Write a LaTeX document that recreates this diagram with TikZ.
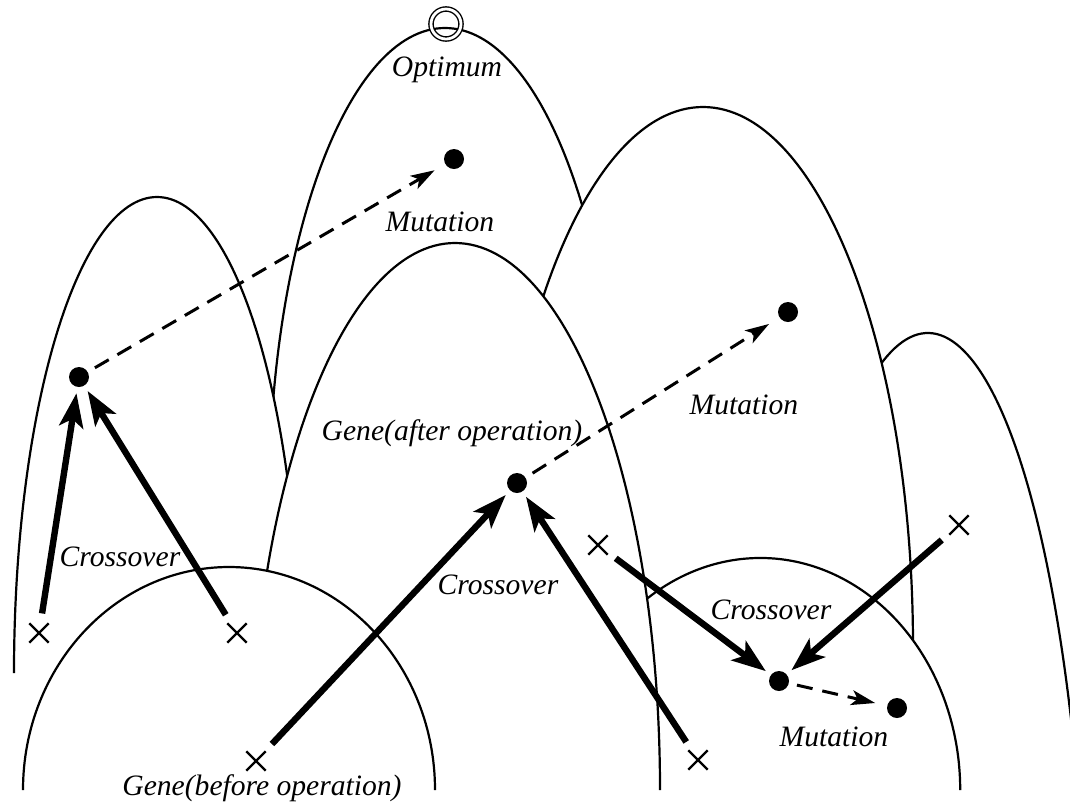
\documentclass[tikz,border=0pt]{standalone}
\usepackage{fontspec}
\setmainfont{Liberation Serif}
\usetikzlibrary{arrows.meta,shapes.misc}
\tikzset{
	hill/.style={draw,fill=white,line width=1.1pt},
	gene/.style={cross out,draw,line width=1.2pt,minimum size=8.5pt,inner sep=0pt},
	newgene/.style={circle,fill,minimum size=10pt,inner sep=0pt},
	lbl/.style={font=\fontsize{14.8}{17}\selectfont\itshape,inner sep=0pt},
	crossover/.style={line width=3.2pt,-{Stealth[length=17pt,width=12pt,inset=4pt]},shorten <=5pt,shorten >=3pt},
	mutation/.style={line width=1.5pt,dash pattern=on 8pt off 5pt,-{Stealth[length=12pt,width=7.5pt,inset=3pt]},shorten <=4pt,shorten >=6pt}
}
\begin{document}
\begin{tikzpicture}[x=0.5pt,y=-0.5pt]
		\useasboundingbox (0,0) rectangle (1070,805);
		\clip (0,0) rectangle (1070,805);
		\draw[hill] (269,503) arc[start angle=180,end angle=0,x radius=88pt,y radius=237.5pt];
		\draw[hill] (839.5,450) arc[start angle=123.6,end angle=0,x radius=80pt,y radius=350pt];
		\draw[hill] (14,673) arc[start angle=180,end angle=0,x radius=71.5pt,y radius=238pt];
		\draw[hill] (493,647) arc[start angle=180,end angle=0,x radius=105pt,y radius=270pt];
		\draw[hill] (587,674) arc[start angle=150,end angle=0,x radius=100pt,y radius=116pt];
		\draw[hill] (250,790) arc[start angle=180,end angle=0,x radius=102.5pt,y radius=273.5pt];
		\draw[hill] (23,790) arc[start angle=180,end angle=0,x radius=103pt,y radius=111.5pt];
		\node[draw,circle,double,double distance=1.4pt,line width=0.7pt,minimum size=15pt,inner sep=0pt] (opt) at (446,24) {};
		\node[gene] (g1) at (39,633) {};\node[gene] (g2) at (237,633) {};
		\node[gene] (g3) at (256,761) {};\node[gene] (g4) at (698,760) {};
		\node[gene] (g5) at (598,545) {};\node[gene] (g6) at (959,525) {};
		\node[newgene] (n1) at (79,377) {};\node[newgene] (n2) at (454,159) {};
		\node[newgene] (n3) at (517,483) {};\node[newgene] (n4) at (788,312) {};
		\node[newgene] (n5) at (779,681) {};\node[newgene] (n6) at (897,708) {};
		\draw[crossover] (g1) -- (n1);
		\draw[crossover] (g2) -- (n1);
		\draw[crossover] (g3) -- (n3);
		\draw[crossover] (g4) -- (n3);
		\draw[crossover] (g5) -- (n5);
		\draw[crossover] (g6) -- (n5);
		\draw[mutation] (n1) -- (n2);
		\draw[mutation] (n3) -- (n4);
		\draw[mutation] (n5) -- (n6);
		\node[lbl] (optlbl) at (447,70) {Optimum};
		\node[lbl] (mut1) at (440,222) {Mutation};
		\node[lbl] (mut2) at (744,405) {Mutation};
		\node[lbl] (mut3) at (834,737) {Mutation};
		\node[lbl] (cross1) at (120,557) {Crossover};
		\node[lbl] (cross2) at (498,585) {Crossover};
		\node[lbl] (cross3) at (771,610) {Crossover};
		\node[lbl] (after) at (452,433) {Gene(after operation)};
		\node[lbl] (before) at (262,788) {Gene(before operation)};
	\end{tikzpicture}
\end{document}
